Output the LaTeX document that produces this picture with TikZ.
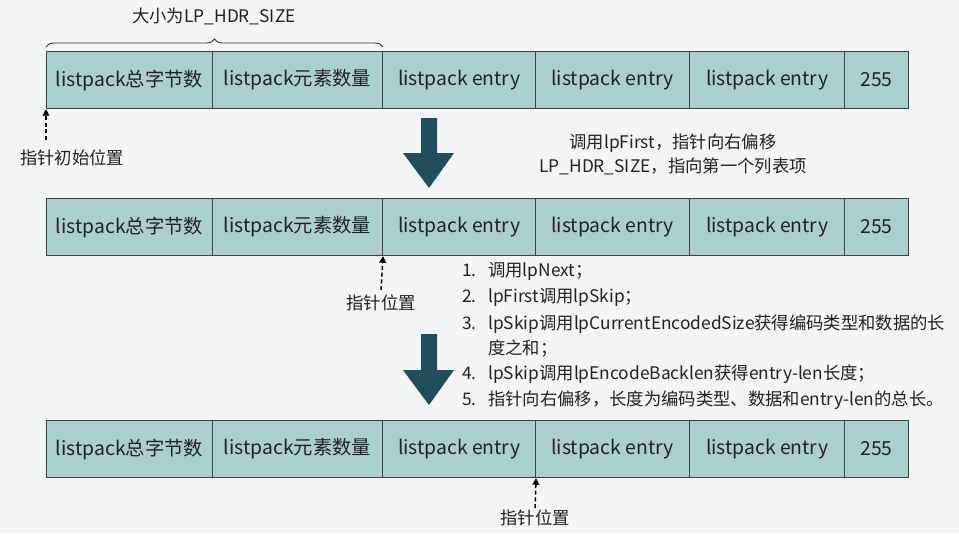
\documentclass[tikz,border=0pt]{standalone}
\usepackage{fontspec}
\setmainfont{Noto Sans CJK SC}
\usetikzlibrary{decorations.pathreplacing,arrows.meta}
\definecolor{bgc}{HTML}{F4F5F7}
\definecolor{cellc}{HTML}{A9CFCF}
\definecolor{arrc}{HTML}{1F4E5C}
\definecolor{txtc}{HTML}{222222}
\tikzset{
  cell/.style={draw=black!75, line width=0.8pt, fill=cellc, minimum height=57*0.75pt, inner sep=0pt, font=\fontsize{14.5}{17}\selectfont, text=txtc},
  ptr/.style={densely dashed, line width=1.1pt, -{Triangle[length=5pt,width=5pt]}, draw=black},
  lbl/.style={font=\fontsize{13}{18}\selectfont, text=txtc},
  bigarrow/.style={fill=arrc, draw=none},
  steptext/.style={font=\fontsize{13}{16}\selectfont, text=txtc, anchor=west, inner sep=0pt}
}
\newcommand{\stepnum}[1]{\makebox[19.5pt][l]{#1}}
\begin{document}
\begin{tikzpicture}[x=0.75pt,y=-0.75pt]
\fill[bgc] (0,0) rectangle (959,533);
\useasboundingbox (0,0) rectangle (959,533);
% rows
\foreach \r/\yt in {a/51,b/198,c/420}{
  \node[cell, minimum width=166*0.75pt, anchor=north west] (\r1) at (46,\yt) {listpack总字节数};
  \node[cell, minimum width=170*0.75pt, anchor=north west] (\r2) at (212,\yt) {listpack元素数量};
  \node[cell, minimum width=153*0.75pt, anchor=north west] (\r3) at (382,\yt) {listpack entry};
  \node[cell, minimum width=154*0.75pt, anchor=north west] (\r4) at (535,\yt) {listpack entry};
  \node[cell, minimum width=155*0.75pt, anchor=north west] (\r5) at (689,\yt) {listpack entry};
  \node[cell, minimum width=64*0.75pt, anchor=north west] (\r6) at (844,\yt) {255};
}
% brace
\draw[decorate, decoration={brace, amplitude=6pt}, line width=0.7pt, draw=black!80]
  ([yshift=3pt]a1.north west) -- ([yshift=3pt]a2.north east);
\node[lbl] (bl) at (214,16) {大小为LP\_HDR\_SIZE};
% pointers
\node[lbl] (p1) at (72,158) {指针初始位置};
\coordinate (p1t) at (46,140);
\draw[ptr] (p1t) -- (a1.south west);
\node[lbl] (p2) at (381,303) {指针位置};
\coordinate (p2t) at (381,290);
\draw[ptr] (p2t) -- (b2.south east);
\node[lbl] (p3) at (535,518) {指针位置};
\coordinate (p3t) at (535,508);
\draw[ptr] (p3t) -- (c3.south east);
% big arrows
\fill[bigarrow] (421,118) -- (437,118) -- (437,153) -- (454,153) -- (429,188) -- (403,153) -- (421,153) -- cycle;
\fill[bigarrow] (421,334) -- (437,334) -- (437,370) -- (454,370) -- (429,405) -- (403,370) -- (421,370) -- cycle;
% text 1
\node[lbl, align=center] (t1) at (673,154) {调用lpFirst，指针向右偏移\\LP\_HDR\_SIZE，指向第一个列表项};
% steps
\node[steptext] (s1) at (462,271) {\stepnum{1.}调用lpNext；};
\node[steptext] (s2) at (462,297) {\stepnum{2.}lpFirst调用lpSkip；};
\node[steptext] (s3) at (462,324) {\stepnum{3.}lpSkip调用lpCurrentEncodedSize获得编码类型和数据的长};
\node[steptext] (s3b) at (488,349) {度之和；};
\node[steptext] (s4) at (462,374) {\stepnum{4.}lpSkip调用lpEncodeBacklen获得entry-len长度；};
\node[steptext] (s5) at (462,400) {\stepnum{5.}指针向右偏移，长度为编码类型、数据和entry-len的总长。};
\end{tikzpicture}
\end{document}
